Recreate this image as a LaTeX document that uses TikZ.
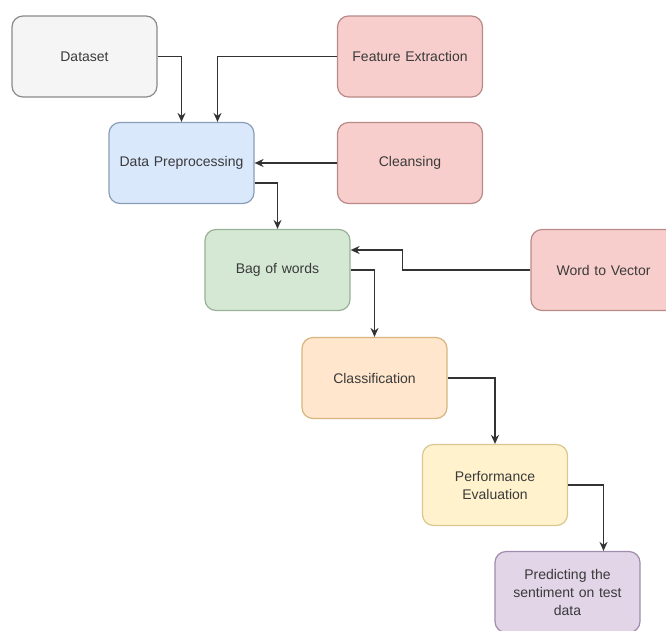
\documentclass[tikz,border=0pt]{standalone}
\usepackage{fontspec}
\setmainfont{Liberation Sans}
\usepackage{tikz}
\usetikzlibrary{arrows.meta}

\definecolor{greyfill}{HTML}{F5F5F5}
\definecolor{greyline}{HTML}{8A8A8A}
\definecolor{redfill}{HTML}{F8CECC}
\definecolor{redline}{HTML}{B88A88}
\definecolor{bluefill}{HTML}{DAE8FC}
\definecolor{blueline}{HTML}{8A9DB8}
\definecolor{greenfill}{HTML}{D5E8D4}
\definecolor{greenline}{HTML}{98B296}
\definecolor{orangefill}{HTML}{FFE6CC}
\definecolor{orangeline}{HTML}{D8B57E}
\definecolor{yellowfill}{HTML}{FFF2CC}
\definecolor{yellowline}{HTML}{D8C88E}
\definecolor{purplefill}{HTML}{E1D5E7}
\definecolor{purpleline}{HTML}{A08CAC}
\definecolor{labeltext}{HTML}{3A3A3A}

\begin{document}
\begin{tikzpicture}[x=1pt,y=-1pt]

      \useasboundingbox (0,0) rectangle (666,630);

      \begin{scope}[every node/.style={rectangle,rounded corners=11pt,draw,
          line width=1.2pt,minimum width=145pt,minimum height=81pt,
          text width=130pt,align=center,text=labeltext,
          font=\fontsize{14}{18}\selectfont}]
        \node[fill=greyfill,draw=greyline] (dataset) at (84.5,56.5) {Dataset};
        \node[fill=redfill,draw=redline] (featext) at (410,56.5) {Feature Extraction};
        \node[fill=bluefill,draw=blueline] (prepro) at (181.5,163) {Data Preprocessing};
        \node[fill=redfill,draw=redline] (cleansing) at (410,163) {Cleansing};
        \node[fill=greenfill,draw=greenline] (bow) at (277.5,270) {Bag of words};
        \node[fill=redfill,draw=redline] (wordvec) at (603.5,270) {Word to Vector};
        \node[fill=orangefill,draw=orangeline] (classif) at (374.5,378) {Classification};
        \node[fill=yellowfill,draw=yellowline] (perfeval) at (495,485) {Performance\\Evaluation};
        \node[fill=purplefill,draw=purpleline] (predict) at (567.5,592) {Predicting the\\sentiment on test\\data};

      \end{scope}

      \begin{scope}[>={Stealth[length=9pt,width=8pt]},
          every path/.style={draw=black!80,line width=1.5pt}]
        \draw [->] (dataset.east) -| (prepro.north);
        \draw [->] (featext.west) -| ([xshift=36pt]prepro.north);
        \draw [->] (cleansing.west) -- (prepro.east);
        \draw [->] ([yshift=-20pt]prepro.east) -| (bow.north);
        \draw [->] (wordvec.west) -- ++(-128,0) |- ([yshift=20pt]bow.east);
        \draw [->] (bow.east) -| (classif.north);
        \draw [->] (classif.east) -| (perfeval.north);
        \draw [->] (perfeval.east) -| ([xshift=36pt]predict.north);

      \end{scope}
    \end{tikzpicture}
\end{document}
